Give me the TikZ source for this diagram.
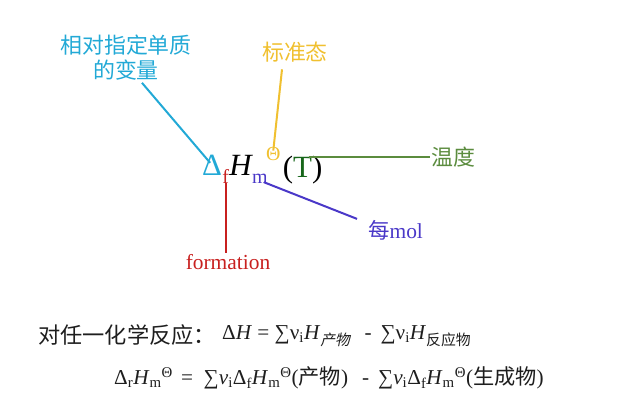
\documentclass[tikz,border=0pt]{standalone}
\usepackage{fontspec}
\setmainfont{Liberation Serif}
\newfontfamily\cjk{Noto Sans CJK SC}
\newfontfamily\cjksl[FakeSlant=0.2]{Noto Sans CJK SC}
\usetikzlibrary{positioning, calc}
\definecolor{varCyan}{HTML}{22A9D6}
\definecolor{stdGold}{HTML}{F0C030}
\definecolor{tempGreen}{HTML}{5B8C3E}
\definecolor{tDark}{HTML}{17661A}
\definecolor{molPurple}{HTML}{4A38C8}
\definecolor{formRed}{HTML}{C8201F}
\definecolor{eqText}{HTML}{1E1E1E}
\newcommand{\subtxt}[1]{\textsubscript{#1}}
\newcommand{\suptxt}[1]{\textsuperscript{#1}}
\newcommand{\fsize}[1]{\fontsize{#1}{#1}\selectfont}
\tikzset{
  part/.style={inner sep=0pt, anchor=base west},
  lblbox/.style={inner sep=1pt, align=center},
  cjklbl/.style={lblbox, font=\cjk\fsize{22}},
  serlbl/.style={lblbox, font=\fsize{21.5}},
  lead/.style={line width=2bp},
  eqline/.style={inner sep=0pt, anchor=west, text=eqText, font=\fsize{21.3}},
}

\begin{document}
\begin{tikzpicture}[x=1bp, y=-1bp]
  \useasboundingbox (0,0) rectangle (620,403);

  % the symbol, piece by piece
  \node[part, varCyan, font=\fsize{31}] (dlt) at (202,175) {Δ};
  \node[part, formRed, font=\fsize{20}] (sf) at ($(dlt.base east)+(0,8)$) {f};
  \node[part, font=\fsize{31}\itshape] (H) at ($(sf.base east)+(0,-8)$) {H};
  \node[part, molPurple, font=\fsize{20}] (sm) at ($(H.base east)+(0,8)$) {m};
  \node[part, stdGold, font=\fsize{20}] (theta) at ($(sm.base east)+(-2,-23)$) {Θ};
  \node[part, font=\fsize{31}] (temp) at ($(theta.base east)+(2,17)$) {(\textcolor{tDark}{T})};

  % labels round it
  \node[cjklbl, varCyan] (lblvar) at (126,58) {相对指定单质\\[3bp]的变量};
  \node[cjklbl, stdGold] (lblstd) at (295,52) {标准态};
  \node[cjklbl, tempGreen, anchor=west] (lbltemp) at (430,157) {温度};
  \node[serlbl, molPurple, anchor=west] (lblmol) at (367,230) {{\cjk 每}mol};
  \node[serlbl, formRed] (lblform) at (228,262) {formation};

  \draw[lead, varCyan] ($(lblvar.south)+(16,1)$) -- ($(dlt.center)+(-2,-2)$);
  \draw[lead, stdGold] ($(lblstd.south)+(-13,6)$) -- ($(theta.north)+(0,4)$);
  \draw[lead, tempGreen] ($(temp.center |- lbltemp.west)+(6,0)$) -- (lbltemp.west);
  \draw[lead, molPurple] ($(sm.south east)+(-4,-1)$) -- ($(lblmol.north west)+(-10,0)$);
  \draw[lead, formRed] (sf.south) -- (sf.south |- lblform.north);

  % equations
  \node[eqline, font=\cjk\fsize{22.3}] (rxnlbl) at (38,335) {对任一化学反应：};
  \node[eqline] (eqsum) at (222,336)
    {Δ\textit{H} = ∑ν\subtxt{i}\textit{H}\subtxt{\cjksl 产物}\hspace{14bp}-\hspace{9bp}∑ν\subtxt{i}\textit{H}\subtxt{\cjk 反应物}};
  \node[eqline] (eqstd) at (114,378)
    {Δ\subtxt{r}\textit{H}\subtxt{m}\suptxt{Θ}\hspace{3bp} = \ ∑\textit{ν}\subtxt{i}Δ\subtxt{f}\textit{H}\subtxt{m}\suptxt{Θ}({\cjk 产物})\hspace{14bp}-\hspace{9bp}∑\textit{ν}\subtxt{i}Δ\subtxt{f}\textit{H}\subtxt{m}\suptxt{Θ}({\cjk 生成物})};
\end{tikzpicture}
\end{document}
